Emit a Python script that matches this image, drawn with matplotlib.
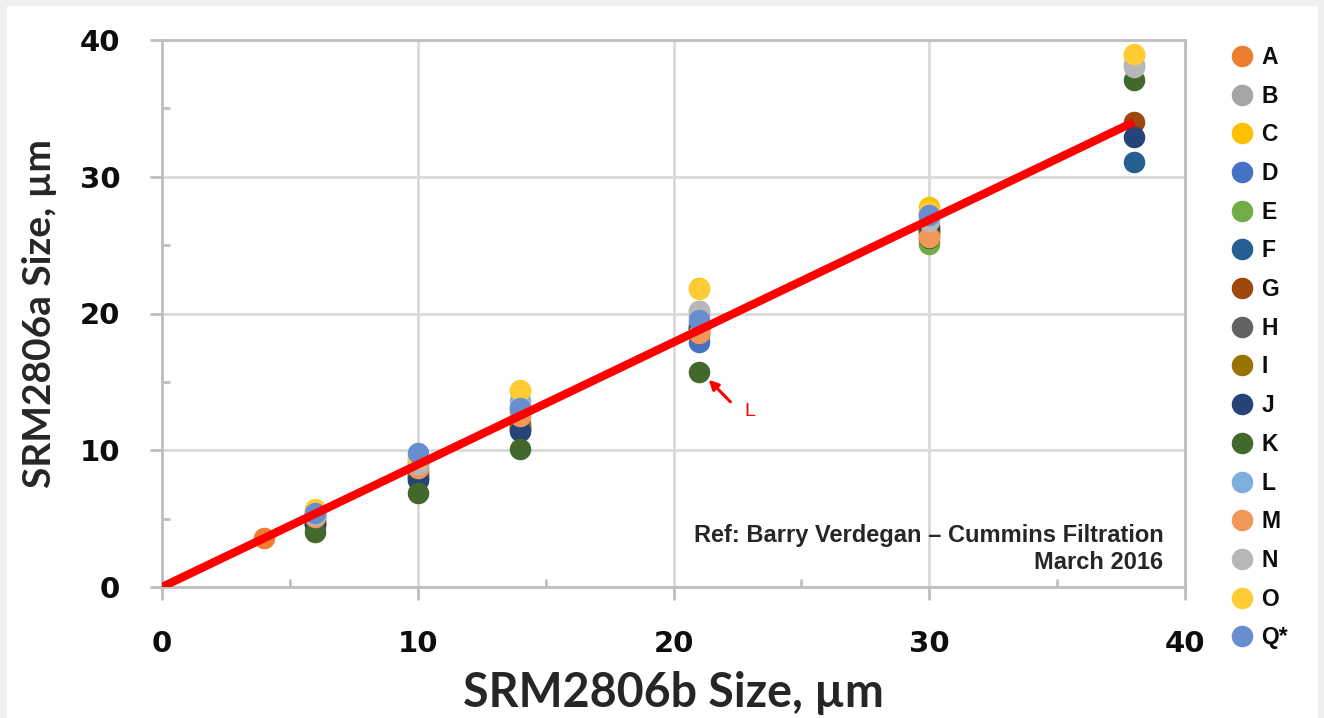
import numpy as np
import matplotlib
matplotlib.use("Agg")
import matplotlib.pyplot as plt
from matplotlib.patches import Rectangle

nan = np.nan
x_sizes = [4, 6, 10, 14, 21, 30, 38]
series_names = ["A", "B", "C", "D", "E", "F", "G", "H", "I", "J", "K", "L", "M", "N", "O", "Q*"]
series_colors = ["#ED7D31", "#A5A5A5", "#FFC000", "#4472C4", "#70AD47", "#255E91",
                 "#9E480E", "#636363", "#997300", "#264478", "#43682B", "#7CAFDD",
                 "#F1975A", "#B7B7B7", "#FFCD33", "#698ED0"]

A  = [3.6, 5.0, 8.6, 12.4, 18.5, 25.3, nan]
B  = [nan, 5.2, 8.8, 12.8, 20.2, 26.5, 38.2]
C  = [nan, 5.6, 9.2, 14.3, 21.9, 27.8, 38.9]
D  = [nan, 5.3, 9.0, 13.0, 17.9, 27.3, nan]
E  = [nan, 4.9, 8.4, 12.0, 18.8, 25.1, nan]
F  = [nan, 4.8, 8.2, 11.6, 19.0, 26.0, 31.1]
G  = [nan, 4.6, 8.0, 11.5, 18.6, 25.8, 34.0]
H  = [nan, 4.7, 8.1, 11.8, 19.2, 26.2, nan]
I  = [nan, 4.6, 8.0, 11.6, 19.0, 26.0, nan]
J  = [nan, 4.5, 7.8, 11.4, 18.9, 26.3, 32.9]
K  = [nan, 4.0, 6.9, 10.1, 15.7, 25.5, 37.1]
L  = [nan, 5.5, 9.3, 13.6, 19.8, 27.0, nan]
M  = [nan, 5.1, 8.7, 12.5, 18.6, 25.6, nan]
N  = [nan, 5.3, 9.0, 13.2, 20.2, 26.8, 38.0]
O  = [nan, 5.7, 9.4, 14.4, 21.8, 27.5, 39.0]
Q  = [nan, 5.4, 9.8, 13.1, 19.5, 27.2, nan]
series_values = [A, B, C, D, E, F, G, H, I, J, K, L, M, N, O, Q]

fit_x = [0, 38]
fit_y = [0, 34]

fig = plt.figure(figsize=(13.24, 7.18), dpi=100, facecolor="#f0f0f0")
W, H_ = 1324, 718
fig.patches.append(Rectangle((7 / W, 0), (1318 - 7) / W, (718 - 6) / H_,
                             transform=fig.transFigure, facecolor="white",
                             edgecolor="none", zorder=-10))
ax = fig.add_axes([162 / W, (718 - 587) / H_, (1185 - 162) / W, (587 - 40) / H_])
ax.set_facecolor("white")

for name, col, vals in zip(series_names, series_colors, series_values):
    ax.plot(x_sizes, vals, linestyle="none", marker="o", markersize=14.5,
            markerfacecolor=col, markeredgecolor=col, label=name, zorder=3)

ax.plot(fit_x, fit_y, color="#FF0000", linewidth=6, solid_capstyle="butt", zorder=4)

ax.set_xlim(0, 40)
ax.set_ylim(0, 40)
ax.set_xticks([0, 10, 20, 30, 40])
ax.set_yticks([0, 10, 20, 30, 40])
ax.set_xticks([5, 15, 25, 35], minor=True)
ax.set_yticks([5, 15, 25, 35], minor=True)
ax.grid(True, which="major", color="#d9d9d9", linewidth=2)
ax.set_axisbelow(True)
for s in ax.spines.values():
    s.set_color("#bfbfbf")
    s.set_linewidth(2)

ax.tick_params(which="major", direction="out", length=9, width=2, color="#bfbfbf")
ax.tick_params(axis="x", which="major", pad=22)
ax.tick_params(axis="y", which="major", pad=21)
ax.tick_params(which="minor", direction="in", length=6, width=2, color="#bfbfbf")
for lab in ax.get_xticklabels() + ax.get_yticklabels():
    lab.set_fontfamily("DejaVu Sans")
    lab.set_fontweight("bold")
    lab.set_fontsize(21)
    lab.set_color("#0d0d0d")

ax.set_xlabel("SRM2806b Size, µm", fontfamily="Lato", fontweight="bold", fontsize=33.5,
              color="#262626", labelpad=9)
ax.set_ylabel("SRM2806a Size, µm", fontfamily="Lato", fontweight="bold", fontsize=28,
              color="#262626", labelpad=16)

ax.text(0.979, 0.115, "Ref: Barry Verdegan – Cummins Filtration\nMarch 2016",
        transform=ax.transAxes, ha="right", va="top", multialignment="right",
        fontfamily="Liberation Sans", fontweight="bold", fontsize=17,
        color="#262626", linespacing=1.2)

ax.annotate("", xy=(21.3, 15.3), xytext=(22.3, 13.4),
            arrowprops=dict(arrowstyle="-|>", color="#FF0000", lw=2.2, mutation_scale=14),
            zorder=5)
ax.text(23.0, 12.8, "L", color="#FF0000", fontsize=14, fontfamily="Liberation Sans",
        ha="center", va="center")

leg = ax.legend(loc="upper left", bbox_to_anchor=(1.033, 1.006), frameon=False,
                prop=dict(family="Liberation Sans", weight="bold", size=16.5),
                handletextpad=0.25, labelspacing=0.685, borderaxespad=0.0,
                handlelength=1.2, markerscale=1.0)
for t in leg.get_texts():
    t.set_color("#0d0d0d")

fig.savefig("out.png", dpi=100, facecolor=fig.get_facecolor())
